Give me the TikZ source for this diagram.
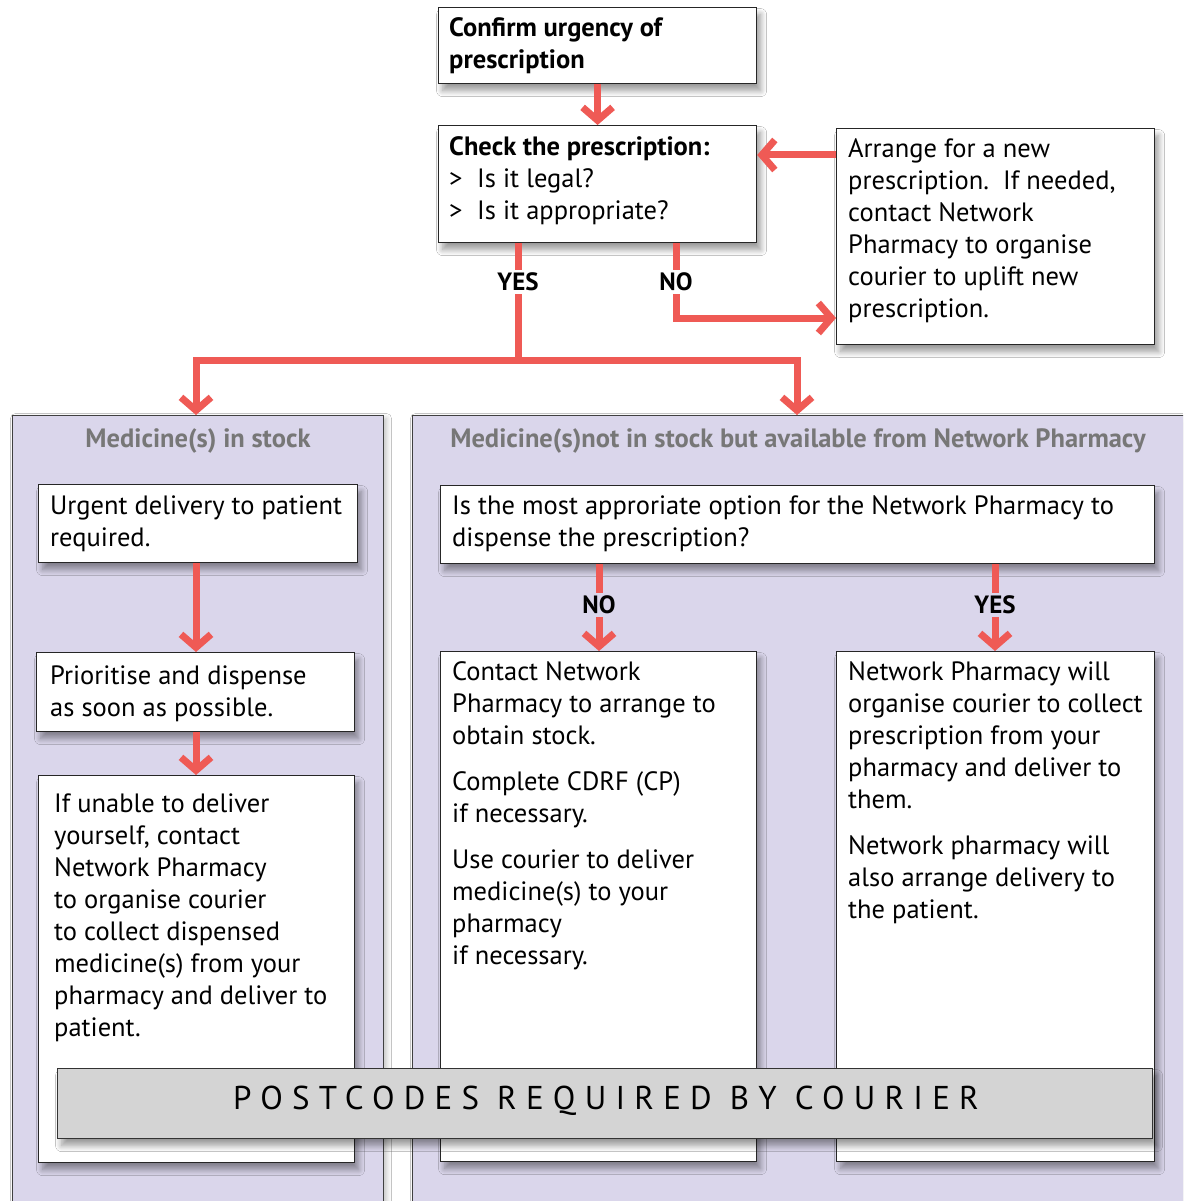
\documentclass[tikz,border=0pt]{standalone}
\usepackage{fontspec}
\setmainfont{PT Sans}
\usetikzlibrary{arrows.meta,calc,shadows.blur}
\definecolor{arrred}{HTML}{EF5A55}
\definecolor{lav}{HTML}{DAD6EB}
\definecolor{hdgrey}{HTML}{777777}
\definecolor{bannergrey}{HTML}{D4D4D4}
\tikzset{
  box/.style={draw=black!85, line width=1.2pt, fill=white, anchor=north west, inner sep=0pt,
    blur shadow={shadow xshift=4pt, shadow yshift=-7pt, shadow blur radius=6pt, shadow blur steps=10, shadow opacity=40}},
  panel/.style={draw=black!75, line width=1pt, fill=lav, anchor=north west, inner sep=0pt,
    blur shadow={shadow xshift=3pt, shadow yshift=-3pt, shadow blur radius=5pt, shadow blur steps=8, shadow opacity=25}},
  banner/.style={draw=black!80, line width=1.2pt, fill=bannergrey, anchor=north west, inner sep=0pt,
    blur shadow={shadow xshift=4pt, shadow yshift=-7pt, shadow blur radius=6pt, shadow blur steps=10, shadow opacity=40}},
  txt/.style={anchor=north west, inner sep=0pt, align=left, font=\fontsize{26.5}{32}\selectfont},
  btxt/.style={txt, font=\bfseries\fontsize{26.5}{32}\selectfont},
  hd/.style={inner sep=0pt, text=hdgrey, font=\bfseries\fontsize{26.5}{30}\selectfont},
  lab/.style={inner sep=3pt, font=\bfseries\fontsize{25}{26}\selectfont},
  ln/.style={draw=arrred, line width=7pt},
  arr/.style={draw=arrred, line width=7pt, -{Straight Barb[length=13pt,width=30pt]}}
}
\begin{document}
\begin{tikzpicture}[x=1pt,y=-1pt]
\useasboundingbox (0,0) rectangle (1183,1201);
\fill[white] (0,0) rectangle (1183,1201);
\clip (0,0) rectangle (1183,1201);

% panels
\node[panel, minimum width=371pt, minimum height=820pt] (P1) at (12,415) {};
\node[panel, minimum width=800pt, minimum height=820pt] (P2) at (412,415) {};
\node[hd] (h1) at (198,441) {Medicine(s) in stock};
\node[hd] (h2) at (798,441) {Medicine(s)not in stock but available from Network Pharmacy};

% top boxes
\node[box, minimum width=318pt, minimum height=76pt] (b1) at (438,7) {};
\node[btxt] (t1) at (449,13.6) {\strut Confirm urgency of\\prescription};

\node[box, minimum width=318pt, minimum height=117pt] (b2) at (438,125) {};
\node[txt] (t2) at (449,132.6) {\strut\textbf{Check the prescription:}\\
\makebox[28pt][l]{\textgreater}Is it legal?\\
\makebox[28pt][l]{\textgreater}Is it appropriate?};

\node[box, minimum width=318pt, minimum height=216pt] (b3) at (836,128) {};
\node[txt] (t3) at (848,134.6) {\strut Arrange for a new\\prescription.\ \ If needed,\\contact Network\\Pharmacy to organise\\courier to uplift new\\prescription.};

% left panel boxes
\node[box, minimum width=319pt, minimum height=78pt] (b4) at (38,484) {};
\node[txt] (t4) at (50,491.6) {\strut Urgent delivery to patient\\required.};

\node[box, minimum width=318pt, minimum height=79pt] (b5) at (36,652) {};
\node[txt] (t5) at (50,661.6) {\strut Prioritise and dispense\\as soon as possible.};

\node[box, minimum width=316pt, minimum height=387pt] (b6) at (38,775) {};
\node[txt] (t6) at (54,789.6) {\strut If unable to deliver\\yourself, contact\\Network Pharmacy\\to organise courier\\to collect dispensed\\medicine(s) from your\\pharmacy and deliver to\\patient.};

% right panel boxes
\node[box, minimum width=714pt, minimum height=78pt] (b7) at (440,485) {};
\node[txt] (t7) at (452,491.6) {\strut Is the most approriate option for the Network Pharmacy to\\dispense the prescription?};

\node[box, minimum width=316pt, minimum height=510pt] (b8) at (440,651) {};
\node[txt] (t8) at (452,657.6) {\strut Contact Network\\Pharmacy to arrange to\\obtain stock.\\[14pt]Complete CDRF (CP)\\if necessary.\\[14pt]Use courier to deliver\\medicine(s) to your\\pharmacy\\if necessary.};

\node[box, minimum width=318pt, minimum height=510pt] (b9) at (836,651) {};
\node[txt] (t9) at (848,657.6) {\strut Network Pharmacy will\\organise courier to collect\\prescription from your\\pharmacy and deliver to\\them.\\[14pt]Network pharmacy will\\also arrange delivery to\\the patient.};

% banner
\node[banner, minimum width=1095pt, minimum height=70pt] (pc) at (57,1068) {};
\node[inner sep=0pt, font=\fontsize{33}{40}\selectfont\addfontfeatures{LetterSpace=28}] (pct) at (606,1101) {POSTCODES REQUIRED BY COURIER};

% connectors
\draw[arr] (b1.south) -- (b2.north);
\coordinate (a3) at (836,155);
\draw[arr] (a3) -- (b2.east |- a3);

\node[lab] (yes1) at (518,282) {YES};
\node[lab] (no1) at (676,282) {NO};
\draw[ln] (b2.south -| yes1) -- (yes1.north);
\coordinate (j) at (518,360);
\draw[ln] (yes1.south) -- (j);
\coordinate (t2r) at (797,415);
\draw[arr] (j) -| (P1.north -| 196,0);
\draw[arr] (j) -| (t2r);
\draw[ln] (b2.south -| no1) -- (no1.north);
\coordinate (nc) at (676,318);
\draw[arr] (no1.south) |- (b3.west |- nc);

\draw[arr] (b4.south -| 196,0) -- (b5.north -| 196,0);
\draw[arr] (b5.south -| 196,0) -- (b6.north -| 196,0);

\node[lab] (no2) at (599,605) {NO};
\node[lab] (yes2) at (995,605) {YES};
\draw[ln] (b7.south -| no2) -- (no2.north);
\draw[arr] (no2.south) -- (b8.north -| no2);
\draw[ln] (b7.south -| yes2) -- (yes2.north);
\draw[arr] (yes2.south) -- (b9.north -| yes2);
\end{tikzpicture}
\end{document}
